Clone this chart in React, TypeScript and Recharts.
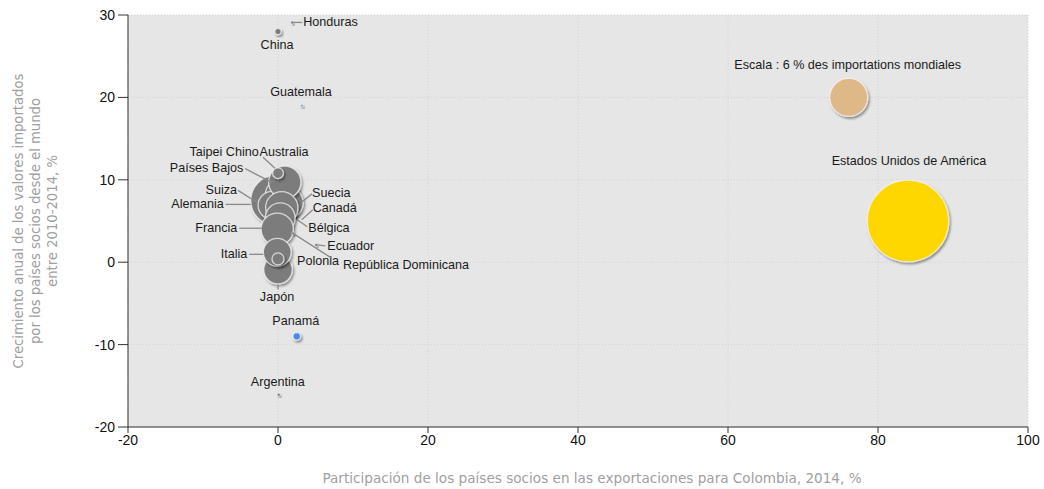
import React from 'react';
import { ScatterChart, Scatter, XAxis, YAxis, CartesianGrid, Label } from 'recharts';

// ---- data (draw order: back to front) ----
const countries = [
  'Alemania', 'Países Bajos', 'Suiza', 'Suecia', 'Taipei Chino', 'Canadá', 'Bélgica', 'Francia',
  'Japón', 'Italia', 'Polonia', 'Australia', 'Estados Unidos de América', 'China', 'Honduras',
  'Guatemala', 'Panamá', 'Argentina', 'Ecuador', 'República Dominicana',
];
// Participación en las exportaciones para Colombia, 2014, %
const exportShare = [-0.3, 0.3, -0.8, 1.2, 0.9, 0.5, 0.3, -0.1, 0.0, -0.1, 0.0, 0.0, 84.0, 0.0, 1.9, 3.2, 2.5, 0.1, 5.1, 2.0];
// Crecimiento anual de los valores importados 2010-2014, %
const importGrowth = [7.5, 8.2, 6.9, 7.2, 9.7, 6.6, 5.4, 4.0, -0.9, 1.2, 0.4, 10.8, 5.0, 28.0, 29.1, 19.0, -9.0, -16.1, 2.1, 3.5];
// Participación en las importaciones mundiales, %
const worldImportShare = [7.9, 4.7, 4.4, 5.1, 5.1, 5.1, 4.7, 5.1, 4.5, 4.4, 1.9, 1.7, 12.9, 1.0, 0.4, 0.4, 1.2, 0.4, 0.4, 0.4];

const scaleLabel = 'Escala : 6 % des importations mondiales';
const scaleX = [76.1];
const scaleY = [20];
const scaleSize = [6];

const xTicks = [-20, 0, 20, 40, 60, 80, 100];
const yTicks = [-20, -10, 0, 10, 20, 30];

const xTitle = 'Participación de los países socios en las exportaciones para Colombia, 2014, %';
const yTitleLines = [
  'Crecimiento anual de los valores importados',
  'por los países socios desde el mundo',
  'entre 2010-2014, %',
];

// ---- tables built from the arrays ----
const points = countries.map((name, i) => ({
  name,
  x: exportShare[i],
  y: importGrowth[i],
  size: worldImportShare[i],
}));
const scalePoints = scaleX.map((x, i) => ({ name: scaleLabel, x, y: scaleY[i], size: scaleSize[i] }));

// ---- styles ----
const PX_PER_UNIT = 19 / 6; // bubble radius per % of world imports
const colorOf: Record<string, string> = {
  'Estados Unidos de América': '#FFD700',
  'Panamá': '#4F86EC',
  'Guatemala': '#8FA9D8',
  [scaleLabel]: '#DEB887',
};
const GRAY = '#7c7c7c';
const LABEL_FONT = '"Liberation Sans", Arial, sans-serif';
const TITLE_FONT = '"DejaVu Sans", Verdana, sans-serif';

type LL = { dx: number; dy: number; anchor: 'start' | 'middle' | 'end'; line?: [number, number, number, number] };
const labelLayout: Record<string, LL> = {
  'Honduras': { dx: 11, dy: 0, anchor: 'start', line: [1, 0, 10, 0] },
  'China': { dx: -1, dy: 14, anchor: 'middle' },
  'Guatemala': { dx: -1, dy: -14, anchor: 'middle' },
  'Panamá': { dx: -1, dy: -15, anchor: 'middle' },
  'Argentina': { dx: -1, dy: -13, anchor: 'middle' },
  'Estados Unidos de América': { dx: 1, dy: -60, anchor: 'middle' },
  [scaleLabel]: { dx: -1, dy: -32, anchor: 'middle' },
  'Australia': { dx: 6, dy: -21, anchor: 'middle', line: [-15, -16, -3, -5] },
  'Taipei Chino': { dx: -26, dy: -30, anchor: 'end' },
  'Países Bajos': { dx: -37, dy: -27, anchor: 'end', line: [-35, -26, -8, -12] },
  'Suiza': { dx: -35, dy: -15, anchor: 'end', line: [-34, -15, -15, -3] },
  'Alemania': { dx: -52, dy: 4, anchor: 'end', line: [-50, 4, -25, 4] },
  'Francia': { dx: -40, dy: -1, anchor: 'end', line: [-38, -1, -15, -1] },
  'Italia': { dx: -30, dy: 2, anchor: 'end', line: [-28, 2, -14, 2] },
  'Suecia': { dx: 25, dy: -10, anchor: 'start', line: [25, -9, 15, -1] },
  'Canadá': { dx: 31, dy: 0, anchor: 'start', line: [31, 2, 20, 12] },
  'Bélgica': { dx: 28, dy: 10, anchor: 'start', line: [27, 9, 17, 2] },
  'Ecuador': { dx: 11, dy: 1, anchor: 'start', line: [9, 1, 1, 0] },
  'República Dominicana': { dx: 50, dy: 32, anchor: 'start', line: [39, 25, 0, 0] },
  'Polonia': { dx: 19, dy: 2, anchor: 'start' },
  'Japón': { dx: -1, dy: 27, anchor: 'middle', line: [0, 15, 0, 20] },
};

const Bubble = (props: any) => {
  const { cx, cy, payload } = props;
  if (cx == null || cy == null) return <g />;
  const r = Math.max(payload.size * PX_PER_UNIT, 1.5);
  const fill = colorOf[payload.name] ?? GRAY;
  return (
    <circle
      cx={cx}
      cy={cy}
      r={r}
      fill={fill}
      stroke="rgba(245,245,245,0.75)"
      strokeWidth={r > 3 ? 1.3 : 0.6}
      filter="url(#bubbleShadow)"
    />
  );
};

const LabelMark = (props: any) => {
  const { cx, cy, payload } = props;
  const L = labelLayout[payload?.name];
  if (cx == null || cy == null || !L) return <g />;
  return (
    <g>
      {L.line && (
        <line
          x1={cx + L.line[0]}
          y1={cy + L.line[1]}
          x2={cx + L.line[2]}
          y2={cy + L.line[3]}
          stroke="#8a8a8a"
          strokeWidth={1.3}
        />
      )}
      <text
        x={cx + L.dx}
        y={cy + L.dy}
        textAnchor={L.anchor}
        dominantBaseline="central"
        fontSize={12.6}
        fontFamily={LABEL_FONT}
        fill="#1a1a1a"
      >
        {payload.name}
      </text>
    </g>
  );
};

const YTitle = (props: any) => {
  const vb = props.viewBox || { x: 0, y: 15, width: 128, height: 412 };
  const cy = vb.y + vb.height / 2;
  const x0 = vb.x + 18;
  return (
    <text
      transform={`rotate(-90, ${x0}, ${cy})`}
      x={x0}
      y={cy}
      textAnchor="middle"
      dominantBaseline="central"
      fontSize={13.2}
      fontFamily={TITLE_FONT}
      fill="#a0a0a0"
    >
      {yTitleLines.map((l, i) => (
        <tspan key={i} x={x0} dy={i === 0 ? 0 : 17}>
          {l}
        </tspan>
      ))}
    </text>
  );
};

const XTitle = (props: any) => {
  const vb = props.viewBox || { x: 128, y: 427, width: 900, height: 62 };
  return (
    <text
      x={vb.x + vb.width / 2 + 14}
      y={vb.y + 51}
      textAnchor="middle"
      dominantBaseline="central"
      fontSize={13.6}
      fontFamily={TITLE_FONT}
      fill="#a0a0a0"
    >
      {xTitle}
    </text>
  );
};

const tickStyle = { fontSize: 14, fontFamily: '"Liberation Sans Narrow", "Liberation Sans", Arial, sans-serif', fill: '#111' };

export default function App() {
  return (
    <div style={{ position: 'absolute', left: 0, top: 0, width: 1044, height: 489, background: '#fff' }}>
      <svg width={0} height={0} style={{ position: 'absolute' }}>
        <defs>
          <filter id="bubbleShadow" x="-30%" y="-30%" width="170%" height="170%">
            <feDropShadow dx={1.5} dy={2} stdDeviation={1.2} floodColor="#000" floodOpacity={0.4} />
          </filter>
        </defs>
      </svg>
      <ScatterChart width={1044} height={489} margin={{ top: 15, right: 16, bottom: 0, left: 0 }}>
        <CartesianGrid
          fill="#e6e6e6"
          stroke="#d2d2d2"
          strokeDasharray="1 2"
          verticalValues={xTicks}
          horizontalValues={yTicks}
        />
        <XAxis
          type="number"
          dataKey="x"
          domain={[-20, 100]}
          ticks={xTicks}
          height={62}
          tickSize={6}
          tickMargin={2}
          stroke="#333"
          tick={tickStyle}
          allowDataOverflow
        >
          <Label content={<XTitle />} />
        </XAxis>
        <YAxis
          type="number"
          dataKey="y"
          domain={[-20, 30]}
          ticks={yTicks}
          width={128}
          tickSize={10}
          tickMargin={3}
          stroke="#333"
          tick={tickStyle}
          allowDataOverflow
        >
          <Label content={<YTitle />} />
        </YAxis>
        <Scatter data={scalePoints} shape={<Bubble />} isAnimationActive={false} />
        <Scatter data={points} shape={<Bubble />} isAnimationActive={false} />
        <Scatter data={scalePoints} shape={<LabelMark />} isAnimationActive={false} />
        <Scatter data={points} shape={<LabelMark />} isAnimationActive={false} />
      </ScatterChart>
    </div>
  );
}
